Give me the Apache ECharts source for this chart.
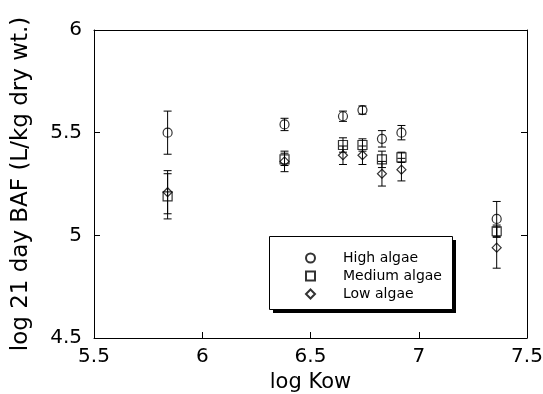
<!DOCTYPE html>
<html><head><meta charset="utf-8">
<script src="https://cdn.jsdelivr.net/npm/echarts@6/dist/echarts.min.js"></script>
<style>html,body{margin:0;padding:0;background:#fff}#c{width:543px;height:394px}</style>
</head><body><div id="c"></div>
<script>
var logKow   = [5.84, 6.38, 6.65, 6.74, 6.83, 6.92, 7.36];
var highMean = [5.50, 5.54, 5.58, 5.61, 5.47, 5.50, 5.08];
var highErr  = [0.105, 0.03, 0.025, 0.02, 0.04, 0.035, 0.085];
var medMean  = [5.19, 5.37, 5.44, 5.44, 5.37, 5.38, 5.02];
var medErr   = [0.11, 0.03, 0.035, 0.03, 0.04, 0.025, 0.03];
var lowMean  = [5.21, 5.36, 5.39, 5.39, 5.30, 5.32, 4.94];
var lowErr   = [0.105, 0.05, 0.045, 0.045, 0.06, 0.055, 0.10];
var seriesNames = ['High algae', 'Medium algae', 'Low algae'];
var xTicks = [5.5, 6, 6.5, 7, 7.5];
var yTicks = [4.5, 5, 5.5, 6];

var FONT = 'DejaVu Sans';
function pts(means){ return logKow.map(function(x,i){ return [x, means[i]]; }); }
function errPts(means, errs){ return logKow.map(function(x,i){ return [x, means[i]-errs[i], means[i]+errs[i]]; }); }
function errSeries(means, errs){
  return {
    type:'custom', silent:true, z:2,
    data: errPts(means, errs),
    encode:{x:0, y:[1,2]},
    renderItem: function(params, api){
      var lo = api.coord([api.value(0), api.value(1)]);
      var hi = api.coord([api.value(0), api.value(2)]);
      var hw = 4;
      var st = {stroke:'#000', lineWidth:1, fill:null};
      return {type:'group', children:[
        {type:'line', shape:{x1:lo[0],y1:lo[1],x2:hi[0],y2:hi[1]}, style:st},
        {type:'line', shape:{x1:lo[0]-hw,y1:lo[1],x2:lo[0]+hw,y2:lo[1]}, style:st},
        {type:'line', shape:{x1:hi[0]-hw,y1:hi[1],x2:hi[0]+hw,y2:hi[1]}, style:st}
      ]};
    }
  };
}
function scat(name, means, symbol){
  return {type:'scatter', name:name, data:pts(means), symbol:symbol, symbolSize:9, z:3,
    itemStyle:{color:'rgba(255,255,255,0)', borderColor:'#000', borderWidth:1.2}};
}
var chart = echarts.init(document.getElementById('c'));
var axisLine = {show:true, lineStyle:{color:'#000', width:1}};
chart.setOption({
  animation:false,
  backgroundColor:'#fff',
  textStyle:{fontFamily:FONT},
  grid:{left:94, right:16, top:30, bottom:56, containLabel:false, outerBoundsMode:'none'},
  xAxis:[{
    type:'value', min:5.5, max:7.5, interval:0.5,
    name:'log Kow', nameLocation:'middle', nameGap:31,
    nameTextStyle:{fontFamily:FONT, fontSize:21, color:'#000'},
    axisLine:axisLine, axisTick:{show:true, inside:true, length:6, lineStyle:{color:'#000'}},
    axisLabel:{fontFamily:FONT, fontSize:20, color:'#000', margin:9,
      formatter:function(v){ return xTicks.indexOf(v)>=0 ? String(v) : ''; }},
    splitLine:{show:false}
  },{
    type:'value', position:'top', min:5.5, max:7.5, interval:0.5,
    axisLine:axisLine, axisTick:{show:false}, axisLabel:{show:false}, splitLine:{show:false}
  }],
  yAxis:[{
    type:'value', min:4.5, max:6, interval:0.5,
    name:'log 21 day BAF (L/kg dry wt.)', nameLocation:'middle', nameGap:61, nameRotate:90,
    nameTextStyle:{fontFamily:FONT, fontSize:23, color:'#000'},
    axisLine:axisLine, axisTick:{show:true, inside:true, length:6, lineStyle:{color:'#000'}},
    axisLabel:{fontFamily:FONT, fontSize:20, color:'#000', margin:12,
      formatter:function(v){ return yTicks.indexOf(v)>=0 ? String(v) : ''; }},
    splitLine:{show:false}
  },{
    type:'value', position:'right', min:4.5, max:6, interval:0.5,
    axisLine:axisLine, axisTick:{show:true, inside:true, length:6, lineStyle:{color:'#000'}},
    axisLabel:{show:false}, splitLine:{show:false}
  }],
  graphic:[
    {type:'rect', z:5, shape:{x:273, y:240, width:183, height:73}, style:{fill:'#000'}},
    {type:'rect', z:6, shape:{x:269.5, y:236.5, width:183, height:73}, style:{fill:'#fff', stroke:'#000', lineWidth:1}}
  ],
  legend:{
    z:10, orient:'vertical', left:300, top:246, itemGap:4,
    itemWidth:9, itemHeight:9,
    data:seriesNames,
    textStyle:{fontFamily:FONT, fontSize:14, color:'#000', padding:[0,0,0,23]}
  },
  series:[
    errSeries(highMean, highErr),
    errSeries(medMean, medErr),
    errSeries(lowMean, lowErr),
    scat(seriesNames[0], highMean, 'circle'),
    scat(seriesNames[1], medMean, 'rect'),
    scat(seriesNames[2], lowMean, 'diamond')
  ]
});
</script></body></html>
